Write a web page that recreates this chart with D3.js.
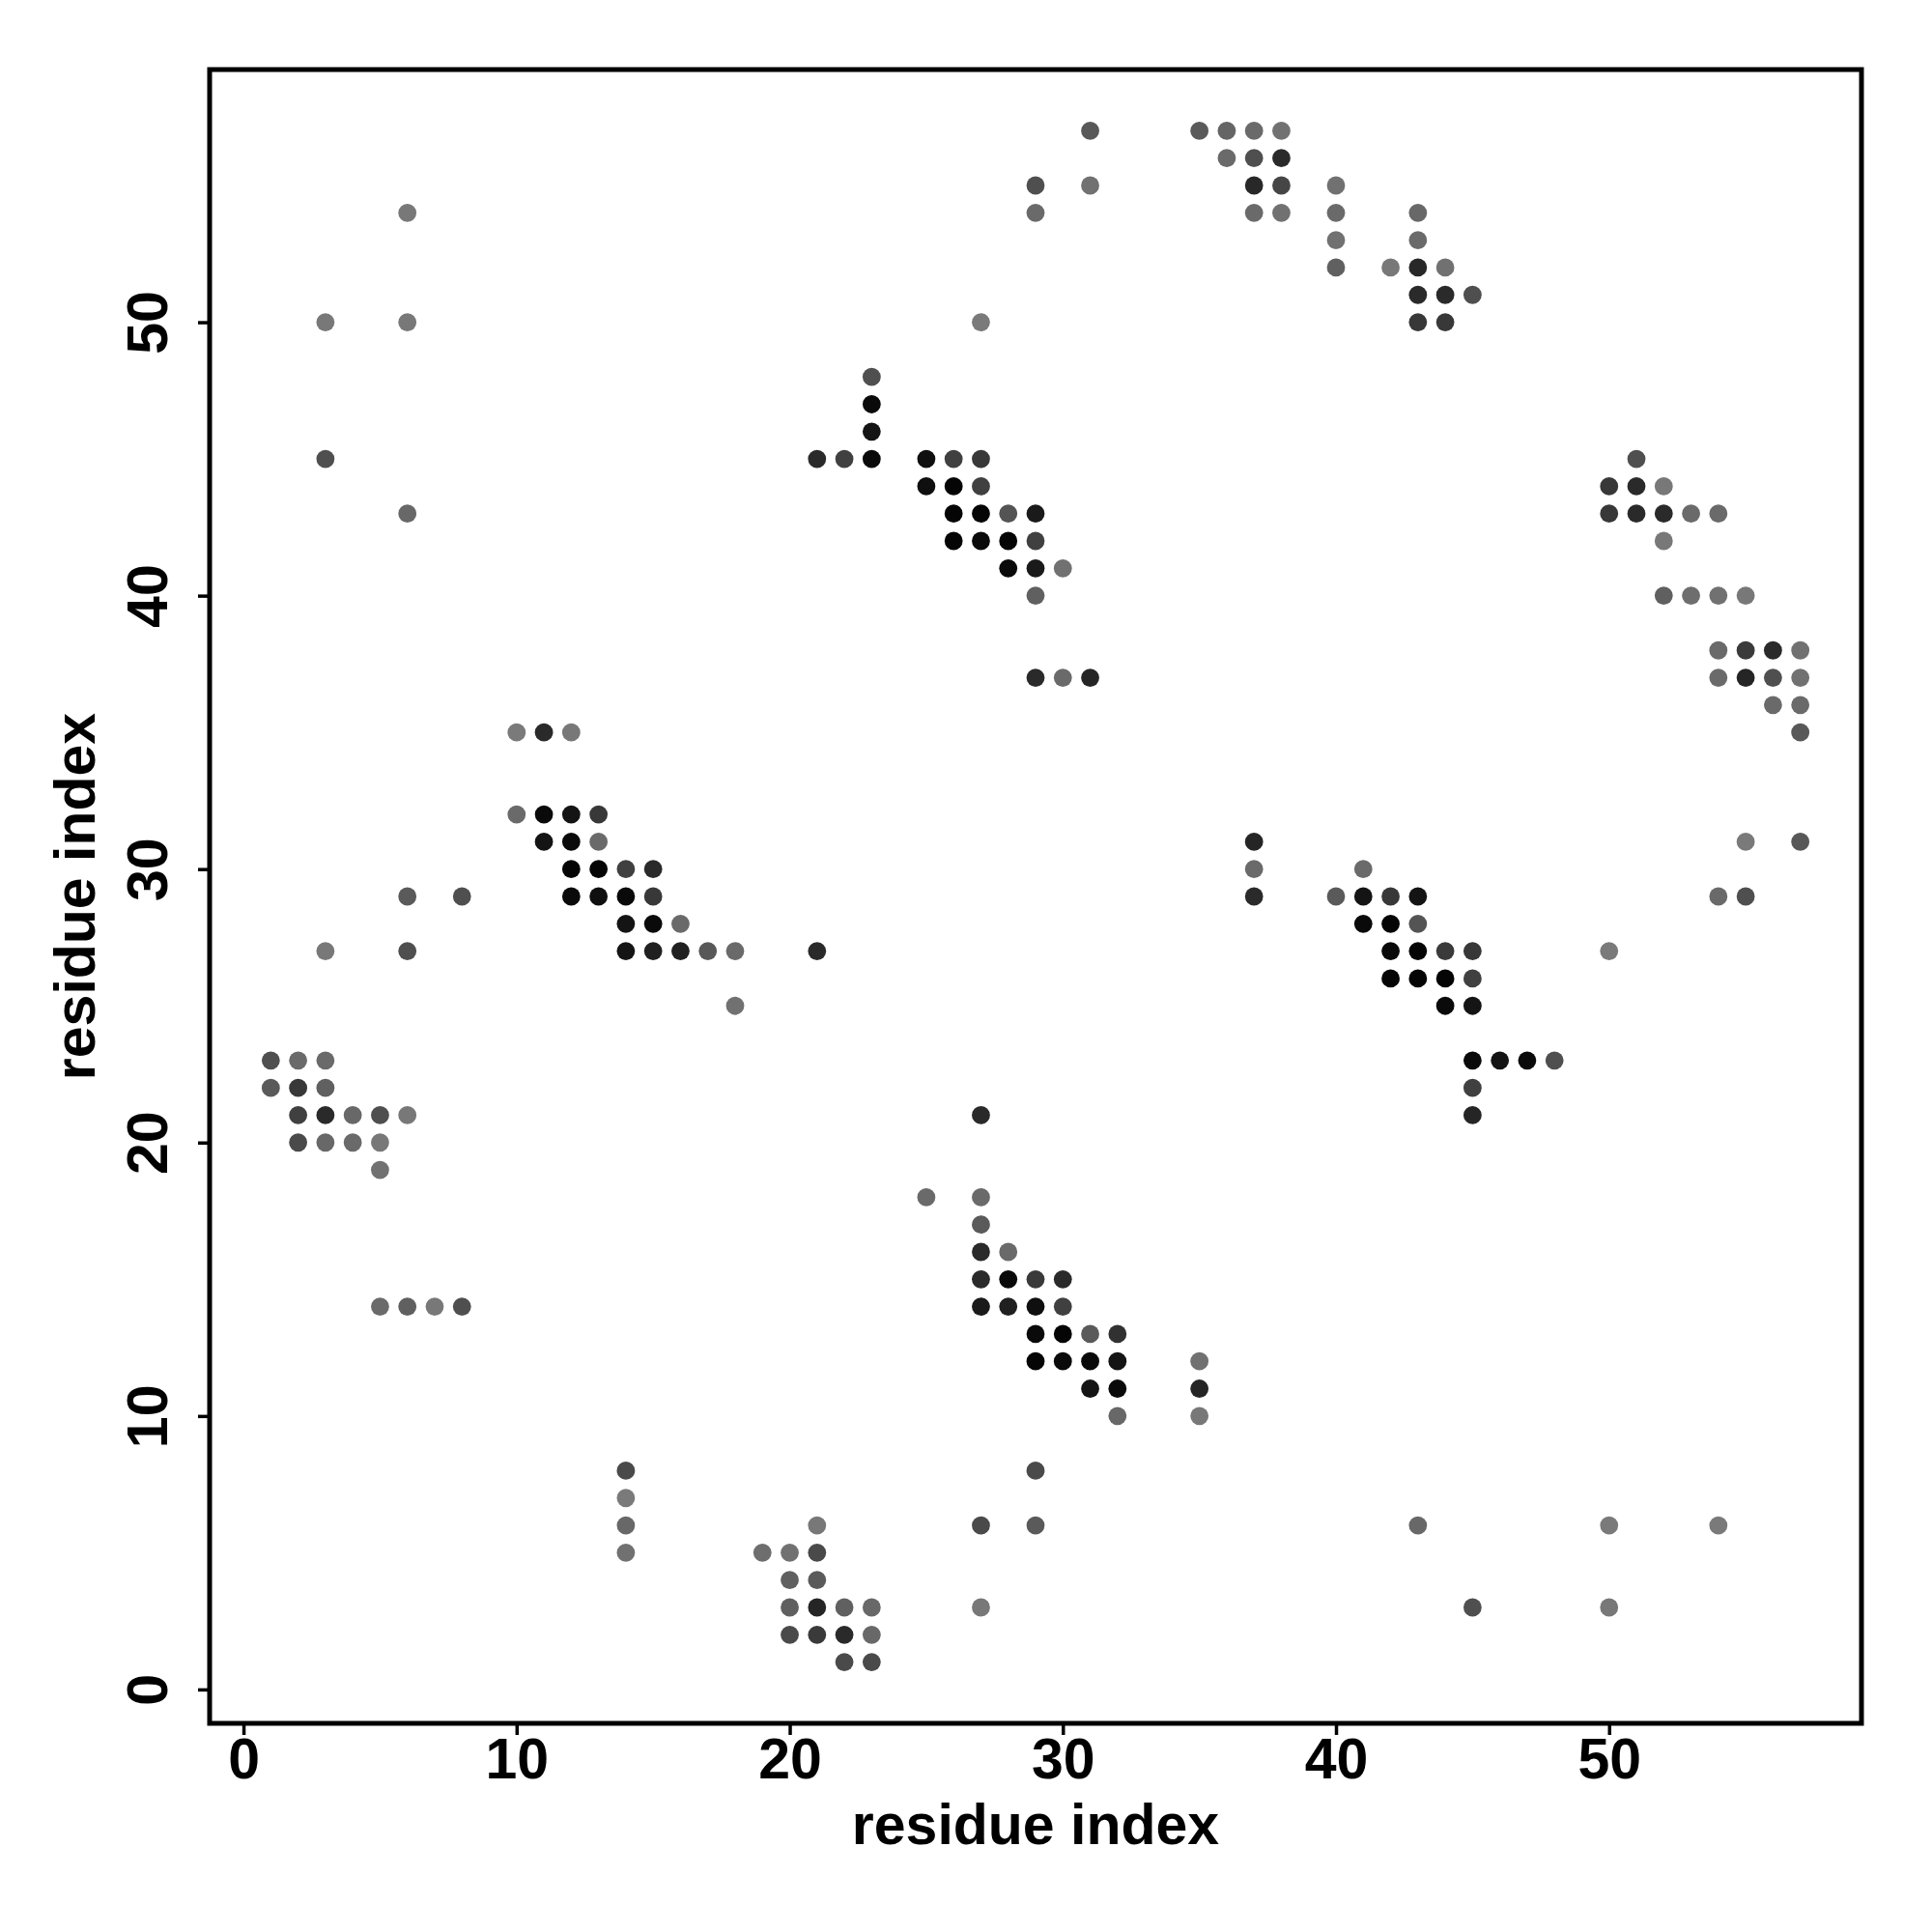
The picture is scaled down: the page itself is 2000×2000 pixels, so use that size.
<!DOCTYPE html>
<html>
<head>
<meta charset="utf-8">
<script src="https://cdn.jsdelivr.net/npm/d3@7"></script>
<style>
  body { margin: 0; background: #ffffff; }
</style>
</head>
<body>
<div id="chart"></div>
<script>
// Contact map: one row per residue j (y), with the residues i (x) in contact and their scores
var rowJ = [57, 56, 55, 54, 53, 52, 51, 50, 48, 47, 46, 45, 44, 43, 42, 41, 40, 38, 37, 36, 35,
            32, 31, 30, 29, 28, 27, 26, 25, 23, 22, 21, 20, 19, 18, 17, 16, 15, 14, 13, 12, 11, 10,
            8, 7, 6, 5, 4, 3, 2, 1];

var rowI = [
  [31, 35, 36, 37, 38],
  [36, 37, 38],
  [29, 31, 37, 38, 40],
  [6, 29, 37, 38, 40, 43],
  [40, 43],
  [40, 42, 43, 44],
  [43, 44, 45],
  [3, 6, 27, 43, 44],
  [23],
  [23],
  [23],
  [3, 21, 22, 23, 25, 26, 27, 51],
  [25, 26, 27, 50, 51, 52],
  [6, 26, 27, 28, 29, 50, 51, 52, 53, 54],
  [26, 27, 28, 29, 52],
  [28, 29, 30],
  [29, 52, 53, 54, 55],
  [54, 55, 56, 57],
  [29, 30, 31, 54, 55, 56, 57],
  [56, 57],
  [10, 11, 12, 57],
  [10, 11, 12, 13],
  [11, 12, 13, 37, 55, 57],
  [12, 13, 14, 15, 37, 41],
  [6, 8, 12, 13, 14, 15, 37, 40, 41, 42, 43, 54, 55],
  [14, 15, 16, 41, 42, 43],
  [3, 6, 14, 15, 16, 17, 18, 21, 42, 43, 44, 45, 50],
  [42, 43, 44, 45],
  [18, 44, 45],
  [1, 2, 3, 45, 46, 47, 48],
  [1, 2, 3, 45],
  [2, 3, 4, 5, 6, 27, 45],
  [2, 3, 4, 5],
  [5],
  [25, 27],
  [27],
  [27, 28],
  [27, 28, 29, 30],
  [5, 6, 7, 8, 27, 28, 29, 30],
  [29, 30, 31, 32],
  [29, 30, 31, 32, 35],
  [31, 32, 35],
  [32, 35],
  [14, 29],
  [14],
  [14, 21, 27, 29, 43, 50, 54],
  [14, 19, 20, 21],
  [20, 21],
  [20, 21, 22, 23, 27, 45, 50],
  [20, 21, 22, 23],
  [22, 23]
];

var rowScore = [
  [.31, .30, .21, .17, .12],
  [.17, .38, .67],
  [.38, .12, .69, .45, .12],
  [.06, .17, .17, .12, .17, .19],
  [.12, .17],
  [.25, .06, .69, .12],
  [.67, .67, .38],
  [.06, .06, .05, .56, .56],
  [.38],
  [.92],
  [.84],
  [.38, .67, .50, .92, .88, .50, .56, .38],
  [.88, .96, .50, .56, .67, .06],
  [.19, .96, .96, .34, .80, .56, .67, .67, .17, .17],
  [.96, .92, .96, .50, .06],
  [.92, .80, .12],
  [.25, .25, .14, .12, .06],
  [.17, .55, .67, .12],
  [.67, .17, .71, .17, .71, .38, .12],
  [.17, .17],
  [.05, .67, .06, .31],
  [.17, .92, .84, .56],
  [.84, .92, .17, .71, .05, .31],
  [.96, .96, .50, .67, .17, .17],
  [.30, .38, .92, .88, .92, .56, .67, .30, .84, .56, .84, .17, .38],
  [.84, .92, .17, .92, .96, .34],
  [.06, .38, .84, .75, .75, .31, .17, .67, .92, .96, .55, .56, .05],
  [.96, .96, .96, .50],
  [.12, .92, .84],
  [.38, .17, .17, .92, .84, .92, .38],
  [.30, .56, .25, .50],
  [.50, .67, .19, .38, .06, .67, .71],
  [.42, .19, .17, .06],
  [.12],
  [.17, .17],
  [.30],
  [.67, .17],
  [.67, .92, .55, .67],
  [.17, .25, .06, .38, .80, .75, .88, .50],
  [.92, .96, .30, .62],
  [.96, .92, .92, .84, .12],
  [.84, .92, .71],
  [.19, .06],
  [.42, .42],
  [.05],
  [.19, .06, .42, .30, .19, .05, .05],
  [.12, .14, .12, .42],
  [.25, .30],
  [.25, .71, .25, .19, .06, .38, .06],
  [.42, .55, .67, .19],
  [.42, .42]
];

var xTicks = [0, 10, 20, 30, 40, 50];
var yTicks = [0, 10, 20, 30, 40, 50];
var xTitle = "residue index";
var yTitle = "residue index";

// flatten rows into points
var points = [];
rowJ.forEach(function(j, r) {
  rowI[r].forEach(function(i, k) {
    points.push({ i: i, j: j, s: rowScore[r][k] });
  });
});

var width = 2000;
var height = 2000;
var box = { left: 217, right: 1927, top: 72, bottom: 1784 };
var fontFace = "'Liberation Sans', Arial, Helvetica, sans-serif";
var fontSize = 59;

// R style 4% padding around the data range 1..57
var lo = 1 - 0.04 * 56, hi = 57 + 0.04 * 56;
var x = d3.scaleLinear().domain([lo, hi]).range([box.left, box.right]);
var y = d3.scaleLinear().domain([lo, hi]).range([box.bottom, box.top]);
var shade = d3.scaleLinear().domain([0, 1]).range(["#808080", "#000000"]);

var svg = d3.select("#chart")
  .append("svg")
  .attr("width", width)
  .attr("height", height)
  .style("background", "#ffffff");

// points
svg.append("g")
  .selectAll("circle")
  .data(points)
  .enter()
  .append("circle")
  .attr("cx", d => x(d.i))
  .attr("cy", d => y(d.j))
  .attr("r", 9.4)
  .attr("fill", d => shade(d.s));

// x axis
var gx = svg.append("g")
  .attr("transform", `translate(0, ${box.bottom})`)
  .call(d3.axisBottom(x).tickValues(xTicks).tickSize(12).tickFormat(d3.format("d")));
gx.select(".domain").remove();
gx.selectAll("line").attr("stroke", "#000").attr("stroke-width", 3.5);
gx.selectAll("text")
  .attr("y", 57)
  .attr("dy", 0)
  .attr("fill", "#000")
  .attr("font-family", fontFace)
  .attr("font-weight", "bold")
  .attr("font-size", fontSize);

// y axis, labels turned to read upwards
var gy = svg.append("g")
  .attr("transform", `translate(${box.left}, 0)`)
  .call(d3.axisLeft(y).tickValues(yTicks).tickSize(12).tickFormat(d3.format("d")));
gy.select(".domain").remove();
gy.selectAll("line").attr("stroke", "#000").attr("stroke-width", 3.5);
gy.selectAll("text")
  .attr("transform", "rotate(-90)")
  .attr("x", 0)
  .attr("y", -44)
  .attr("dy", 0)
  .attr("text-anchor", "middle")
  .attr("fill", "#000")
  .attr("font-family", fontFace)
  .attr("font-weight", "bold")
  .attr("font-size", fontSize);

// frame around the plot
svg.append("rect")
  .attr("x", box.left)
  .attr("y", box.top)
  .attr("width", box.right - box.left)
  .attr("height", box.bottom - box.top)
  .attr("fill", "none")
  .attr("stroke", "#000")
  .attr("stroke-width", 5);

// axis titles
svg.append("text")
  .attr("x", (box.left + box.right) / 2)
  .attr("y", 1909)
  .attr("text-anchor", "middle")
  .attr("font-family", fontFace)
  .attr("font-weight", "bold")
  .attr("font-size", fontSize)
  .attr("fill", "#000")
  .text(xTitle);

svg.append("text")
  .attr("transform", `translate(98, ${(box.top + box.bottom) / 2}) rotate(-90)`)
  .attr("text-anchor", "middle")
  .attr("font-family", fontFace)
  .attr("font-weight", "bold")
  .attr("font-size", fontSize)
  .attr("fill", "#000")
  .text(yTitle);
</script>
</body>
</html>
